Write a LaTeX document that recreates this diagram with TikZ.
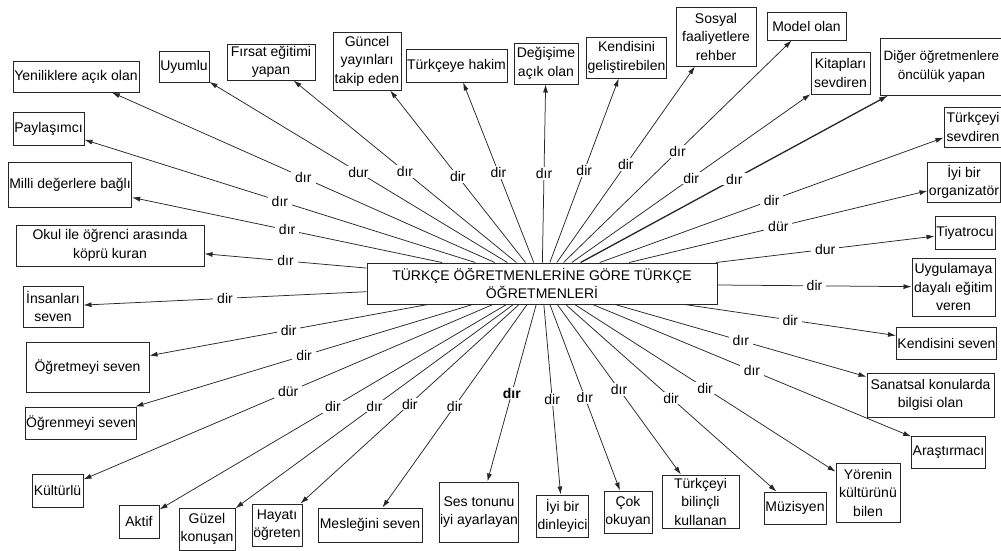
\documentclass[tikz,border=0pt]{standalone}
\usepackage{fontspec}
\setmainfont{Liberation Sans}
\usetikzlibrary{arrows.meta}
\begin{document}
\begin{tikzpicture}[x=1pt,y=-1pt,
  font=\fontsize{14}{18.5}\selectfont,
  box/.style={draw=black!85, line width=1pt, align=center, inner sep=1pt, fill=white},
  spoke/.style={draw=black!85, line width=0.75pt, -{Latex[length=8pt,width=5pt]}},
  lbl/.style={fill=white, inner xsep=4pt, inner ysep=1pt}]
\useasboundingbox (0,0) rectangle (1001,550);

% central concept
\node[box, minimum width=350pt, minimum height=41pt] (hub) at (542,283.5)
  {TÜRKÇE ÖĞRETMENLERİNE GÖRE TÜRKÇE\\ÖĞRETMENLERİ};

% surrounding qualities
\node[box, minimum width=126pt, minimum height=31pt] (n1) at (76,76.5) {Yeniliklere açık olan};
\node[box, minimum width=50pt, minimum height=31pt] (n2) at (184,66.5) {Uyumlu};
\node[box, minimum width=88pt, minimum height=36pt] (n3) at (271,62) {Fırsat eğitimi\\yapan};
\node[box, minimum width=68pt, minimum height=58pt] (n4) at (367,61) {Güncel\\yayınları\\takip eden};
\node[box, minimum width=101pt, minimum height=33pt] (n5) at (456.5,65.5) {Türkçeye hakim};
\node[box, minimum width=64pt, minimum height=41pt] (n6) at (546,63.5) {Değişime\\açık olan};
\node[box, minimum width=79pt, minimum height=41pt] (n7) at (626.5,57.5) {Kendisini\\geliştirebilen};
\node[box, minimum width=80pt, minimum height=59pt] (n8) at (716,36.5) {Sosyal\\faaliyetlere\\rehber};
\node[box, minimum width=79pt, minimum height=28pt] (n9) at (806.5,26) {Model olan};
\node[box, minimum width=59pt, minimum height=42pt] (n10) at (840.5,73) {Kitapları\\sevdiren};
\node[box, minimum width=122pt, minimum height=57pt, font=\fontsize{13.5}{18.5}\selectfont]
  (n11) at (941.5,66.5) {Diğer öğretmenlere\\öncülük yapan};
\node[box, minimum width=58pt, minimum height=40pt] (n12) at (973,127) {Türkçeyi\\sevdiren};
\node[box, minimum width=70pt, minimum height=40pt] (n13) at (964,182) {İyi bir\\organizatör};
\node[box, minimum width=60pt, minimum height=33pt] (n14) at (965,232.5) {Tiyatrocu};
\node[box, minimum width=83pt, minimum height=58pt] (n15) at (953.5,287) {Uygulamaya\\dayalı eğitim\\veren};
\node[box, minimum width=99pt, minimum height=32pt] (n16) at (946.5,343) {Kendisini seven};
\node[box, minimum width=127pt, minimum height=44pt] (n17) at (930.5,395) {Sanatsal konularda\\bilgisi olan};
\node[box, minimum width=73pt, minimum height=32pt] (n18) at (948.5,452) {Araştırmacı};
\node[box, minimum width=64pt, minimum height=59pt] (n19) at (868,492.5) {Yörenin\\kültürünü\\bilen};
\node[box, minimum width=62pt, minimum height=32pt] (n20) at (795,508) {Müzisyen};
\node[box, minimum width=77pt, minimum height=53pt] (n21) at (700.5,501.5) {Türkçeyi\\bilinçli\\kullanan};
\node[box, minimum width=48pt, minimum height=42pt] (n22) at (628,512) {Çok\\okuyan};
\node[box, minimum width=51pt, minimum height=42pt] (n23) at (562.5,516) {İyi bir\\dinleyici};
\node[box, minimum width=76pt, minimum height=60pt] (n24) at (479,512) {Ses tonunu\\iyi ayarlayan};
\node[box, minimum width=104pt, minimum height=34pt] (n25) at (370,525) {Mesleğini seven};
\node[box, minimum width=50pt, minimum height=42pt] (n26) at (277,525) {Hayatı\\öğreten};
\node[box, minimum width=56pt, minimum height=42pt] (n27) at (207,529) {Güzel\\konuşan};
\node[box, minimum width=40pt, minimum height=33pt] (n28) at (139,521.5) {Aktif};
\node[box, minimum width=51pt, minimum height=33pt] (n29) at (57.5,490.5) {Kültürlü};
\node[box, minimum width=110pt, minimum height=32pt] (n30) at (81,423) {Öğrenmeyi seven};
\node[box, minimum width=123pt, minimum height=50pt] (n31) at (87.5,367) {Öğretmeyi seven};
\node[box, minimum width=60pt, minimum height=41pt] (n32) at (53,306.5) {İnsanları\\seven};
\node[box, minimum width=188pt, minimum height=41pt] (n33) at (110,245.5) {Okul ile öğrenci arasında\\köprü kuran};
\node[box, minimum width=122pt, minimum height=45pt] (n34) at (70,184.5) {Milli değerlere bağlı};
\node[box, minimum width=71pt, minimum height=33pt] (n35) at (48.5,128.5) {Paylaşımcı};

% spokes with their suffix labels
\foreach \n/\s in {1/dır, 2/dur, 3/dır, 4/dir, 5/dir, 6/dır, 7/dir, 8/dir, 9/dır,
                   10/dir, 12/dir, 13/dür, 14/dur, 15/dir, 16/dir, 17/dır,
                   18/dır, 19/dir, 20/dir, 21/dır, 22/dır, 23/dir, 24/{\textbf{dır}},
                   25/dir, 26/dir, 27/dır, 28/dir, 29/dür, 30/dir, 31/dir, 32/dir,
                   33/dır, 34/dır, 35/dır}
  \draw[spoke] (hub) -- node[lbl] {\s} (n\n);
\draw[spoke, line width=1.3pt, -{Latex[length=9pt,width=5.5pt]}] (hub) -- node[lbl] {dır} (n11);
\end{tikzpicture}
\end{document}
